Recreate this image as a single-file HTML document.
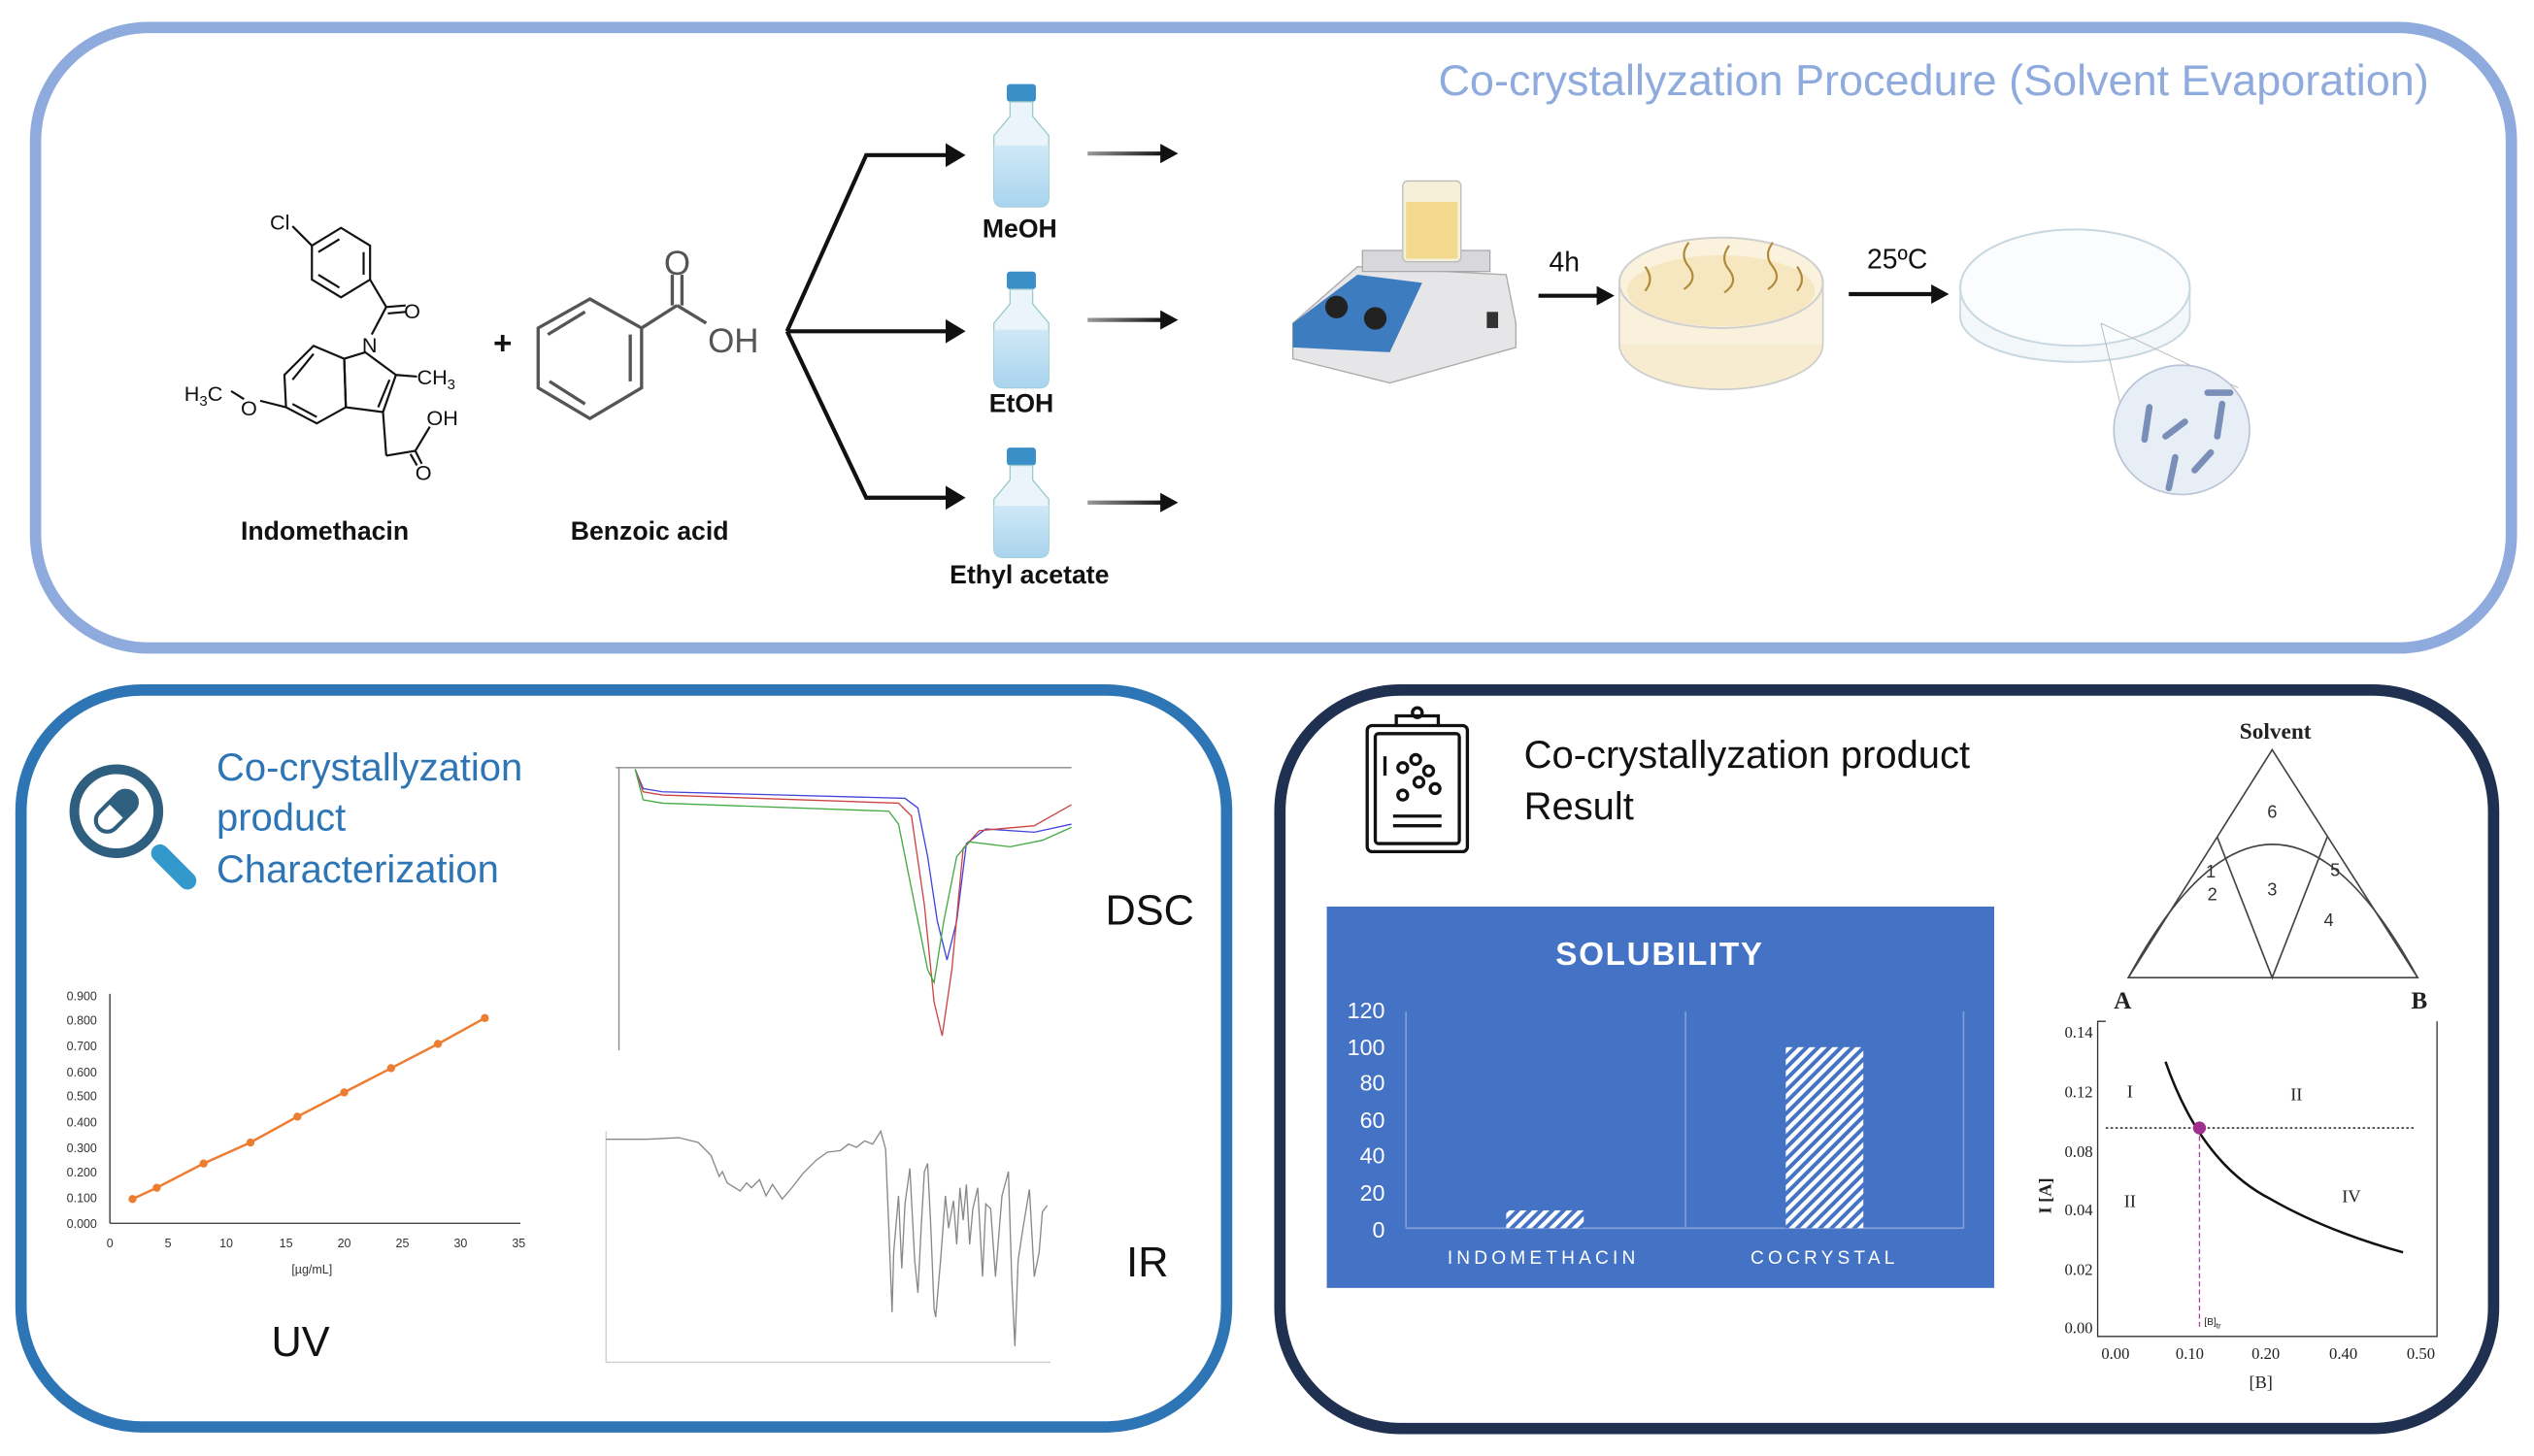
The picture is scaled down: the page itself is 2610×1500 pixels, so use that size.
<!DOCTYPE html>
<html><head><meta charset="utf-8"><style>
html,body{margin:0;padding:0;background:#fff;}
svg{display:block;}
text{font-family:"Liberation Sans",sans-serif;}
text.serif,.serif text{font-family:"Liberation Serif",serif;}
</style></head><body>
<svg width="2610" height="1500" viewBox="0 0 1568 901" preserveAspectRatio="none" xmlns="http://www.w3.org/2000/svg">
<defs>
<marker id="ah" markerWidth="6" markerHeight="6" refX="4" refY="3" orient="auto" markerUnits="strokeWidth"><path d="M0,0 L5,3 L0,6 z" fill="#111"/></marker>
<pattern id="hatch" width="5" height="5" patternUnits="userSpaceOnUse" patternTransform="rotate(45)"><rect width="5" height="5" fill="#4472c4"/><rect width="2.6" height="5" fill="#fff"/></pattern>
<linearGradient id="ag" gradientUnits="userSpaceOnUse" x1="673" x2="720" y1="0" y2="0"><stop offset="0" stop-color="#999"/><stop offset="1" stop-color="#111"/></linearGradient>
<linearGradient id="liq" x1="0" x2="0" y1="0" y2="1"><stop offset="0" stop-color="#cfe8f6"/><stop offset="1" stop-color="#a9d4ee"/></linearGradient>
</defs>

<!-- TOP PANEL -->
<rect x="22" y="17" width="1532" height="384" rx="70" fill="#fff" stroke="#8faadc" stroke-width="7"/>
<text x="1503" y="59" text-anchor="end" font-size="27" fill="#8faadc" textLength="613" lengthAdjust="spacingAndGlyphs">Co-crystallyzation Procedure (Solvent Evaporation)</text>

<!-- Indomethacin -->
<g stroke="#111" stroke-width="1.3" fill="none">
<polygon points="193,152 211,141 229,152 229,173 211,184 193,173"/>
<line x1="197" y1="156" x2="210" y2="148"/><line x1="225" y1="156" x2="225" y2="170"/><line x1="197" y1="170" x2="210" y2="178"/>
<line x1="193" y1="152" x2="181" y2="140"/>
<line x1="229" y1="173" x2="239" y2="190"/>
<line x1="239" y1="190" x2="251" y2="189"/><line x1="240" y1="194" x2="251" y2="193"/>
<line x1="239" y1="190" x2="230" y2="207"/>
<polygon points="213,222 226,218 245,232 237,255 214,252"/>
<line x1="241" y1="235" x2="234" y2="252"/>
<line x1="245" y1="232" x2="258" y2="233"/>
<polygon points="213,222 214,252 196,262 177,252 176,232 194,214"/>
<line x1="181" y1="235" x2="194" y2="219"/><line x1="181" y1="250" x2="196" y2="258"/>
<line x1="177" y1="252" x2="161" y2="248"/>
<line x1="151" y1="247" x2="143" y2="242"/>
<line x1="237" y1="255" x2="239" y2="282"/>
<line x1="239" y1="282" x2="257" y2="279"/>
<line x1="257" y1="279" x2="266" y2="264"/>
<line x1="257" y1="279" x2="261" y2="287"/><line x1="254" y1="281" x2="258" y2="288"/>
</g>
<g font-size="13" fill="#111">
<text x="167" y="142">Cl</text>
<text x="250" y="197">O</text>
<text x="224" y="218">N</text>
<text x="258" y="238">CH<tspan font-size="9" dy="3">3</tspan></text>
<text x="114" y="248">H<tspan font-size="9" dy="3">3</tspan><tspan dy="-3">C</tspan></text>
<text x="149" y="257">O</text>
<text x="264" y="263">OH</text>
<text x="257" y="297">O</text>
</g>
<text x="201" y="334" text-anchor="middle" font-size="16" font-weight="bold" fill="#111">Indomethacin</text>
<text x="311" y="219" text-anchor="middle" font-size="20" font-weight="bold" fill="#111">+</text>
<!-- Benzoic acid -->
<g stroke="#555" stroke-width="2" fill="none">
<polygon points="365,185 397,203 397,240 365,259 333,240 333,203"/>
<line x1="339" y1="207" x2="362" y2="193"/><line x1="390" y1="207" x2="390" y2="236"/><line x1="340" y1="236" x2="362" y2="250"/>
<line x1="397" y1="203" x2="419" y2="189"/>
<line x1="416" y1="189" x2="416" y2="170"/><line x1="422" y1="189" x2="422" y2="170"/>
<line x1="419" y1="189" x2="437" y2="200"/>
</g>
<text x="419" y="170" text-anchor="middle" font-size="21" fill="#555">O</text>
<text x="438" y="218" font-size="21" fill="#555">OH</text>
<text x="402" y="334" text-anchor="middle" font-size="16" font-weight="bold" fill="#111">Benzoic acid</text>

<!-- fork -->
<g stroke="#111" stroke-width="2.5" fill="none">
<polyline points="487,205 536,96 595,96" marker-end="url(#ah)"/>
<polyline points="487,205 595,205" marker-end="url(#ah)"/>
<polyline points="487,205 536,308 595,308" marker-end="url(#ah)"/>
</g>
<!-- bottles -->
<g>
<g transform="translate(632,52)"><rect x="-9" y="0" width="18" height="11" rx="2" fill="#3b8fc8"/><path d="M-7,11 L7,11 L7,20 L17,32 L17,70 Q17,76 11,76 L-11,76 Q-17,76 -17,70 L-17,32 L-7,20 Z" fill="#eaf4fa" stroke="#9cc" stroke-width="0.8"/><path d="M-17,38 L17,38 L17,70 Q17,76 11,76 L-11,76 Q-17,76 -17,70 Z" fill="url(#liq)"/></g>
<g transform="translate(632,168)"><rect x="-9" y="0" width="18" height="11" rx="2" fill="#3b8fc8"/><path d="M-7,11 L7,11 L7,20 L17,32 L17,66 Q17,72 11,72 L-11,72 Q-17,72 -17,66 L-17,32 L-7,20 Z" fill="#eaf4fa" stroke="#9cc" stroke-width="0.8"/><path d="M-17,36 L17,36 L17,66 Q17,72 11,72 L-11,72 Q-17,72 -17,66 Z" fill="url(#liq)"/></g>
<g transform="translate(632,277)"><rect x="-9" y="0" width="18" height="11" rx="2" fill="#3b8fc8"/><path d="M-7,11 L7,11 L7,20 L17,32 L17,62 Q17,68 11,68 L-11,68 Q-17,68 -17,62 L-17,32 L-7,20 Z" fill="#eaf4fa" stroke="#9cc" stroke-width="0.8"/><path d="M-17,36 L17,36 L17,62 Q17,68 11,68 L-11,68 Q-17,68 -17,62 Z" fill="url(#liq)"/></g>
</g>
<g font-size="16" font-weight="bold" fill="#111" text-anchor="middle">
<text x="631" y="147">MeOH</text><text x="632" y="255">EtOH</text><text x="637" y="361">Ethyl acetate</text>
</g>
<g stroke="url(#ag)" stroke-width="2.5">
<path d="M673,95 H720 M673,198 H720 M673,311 H720"/>
</g>
<g fill="#111"><path d="M718,89 L729,95 L718,101 Z"/><path d="M718,192 L729,198 L718,204 Z"/><path d="M718,305 L729,311 L718,317 Z"/></g>

<!-- hotplate -->
<g>
<path d="M800,200 L840,165 L932,170 L938,200 L938,215 L860,237 L800,222 Z" fill="#e6e6e8" stroke="#aaa" stroke-width="0.8"/>
<path d="M800,200 L840,170 L880,175 L860,218 L800,215 Z" fill="#3e7cc0"/>
<circle cx="827" cy="190" r="7" fill="#222"/><circle cx="851" cy="197" r="7" fill="#222"/>
<rect x="920" y="193" width="7" height="10" fill="#333"/>
<path d="M843,155 L922,155 L922,168 L843,168 Z" fill="#d8d8dc" stroke="#999" stroke-width="0.6"/>
<rect x="868" y="112" width="36" height="50" rx="3" fill="#f6f0d8" stroke="#bbb" stroke-width="0.8"/>
<rect x="870" y="125" width="32" height="35" fill="#f2d98e"/>
</g>
<text x="968" y="168" text-anchor="middle" font-size="17" fill="#111">4h</text>
<line x1="952" y1="183" x2="990" y2="183" stroke="#111" stroke-width="2.5"/><path d="M988,177 L999,183 L988,189 Z" fill="#111"/>
<!-- petri with liquid -->
<g>
<ellipse cx="1065" cy="213" rx="63" ry="28" fill="#f7ecd0" stroke="#ccc" stroke-width="1"/>
<rect x="1002" y="175" width="126" height="38" fill="#f9f1dc"/>
<ellipse cx="1065" cy="175" rx="63" ry="28" fill="#faf2dd" stroke="#cfcfcf" stroke-width="1.2"/>
<ellipse cx="1065" cy="180" rx="58" ry="22" fill="#f6e7c0"/>
<line x1="1002" y1="175" x2="1002" y2="213" stroke="#ccc"/><line x1="1128" y1="175" x2="1128" y2="213" stroke="#ccc"/>
<g stroke="#b08a3a" stroke-width="1.3" fill="none">
<path d="M1045,150 q-6,8 0,15 q6,8 -3,14"/><path d="M1070,152 q-6,8 0,15 q6,8 -3,14"/><path d="M1097,150 q-6,8 0,15 q6,8 -3,14"/>
<path d="M1018,165 q6,8 0,15"/><path d="M1112,165 q6,8 0,15"/>
</g>
</g>
<text x="1174" y="166" text-anchor="middle" font-size="17" fill="#111">25ºC</text>
<line x1="1144" y1="182" x2="1197" y2="182" stroke="#111" stroke-width="2.5"/><path d="M1195,176 L1206,182 L1195,188 Z" fill="#111"/>
<!-- empty petri -->
<g>
<ellipse cx="1284" cy="196" rx="71" ry="28" fill="#f2f7fa" stroke="#c8d8e0" stroke-width="1.2"/>
<rect x="1213" y="178" width="142" height="18" fill="#f4f8fb"/>
<ellipse cx="1284" cy="178" rx="71" ry="36" fill="#fafcfd" stroke="#c8d8e0" stroke-width="1.2"/>
<line x1="1213" y1="178" x2="1213" y2="196" stroke="#c8d8e0"/><line x1="1355" y1="178" x2="1355" y2="196" stroke="#c8d8e0"/>
<line x1="1300" y1="200" x2="1312" y2="250" stroke="#bbb" stroke-width="0.6"/><line x1="1300" y1="200" x2="1385" y2="240" stroke="#bbb" stroke-width="0.6"/>
<ellipse cx="1350" cy="266" rx="42" ry="40" fill="#e8eef6" stroke="#b8c4d6" stroke-width="1"/>
<g stroke="#7a8fb8" stroke-width="4" stroke-linecap="round">
<line x1="1366" y1="243" x2="1380" y2="243"/><line x1="1330" y1="252" x2="1327" y2="272"/><line x1="1340" y1="270" x2="1352" y2="261"/>
<line x1="1375" y1="250" x2="1372" y2="270"/><line x1="1346" y1="283" x2="1342" y2="302"/><line x1="1358" y1="291" x2="1368" y2="280"/>
</g>
</g>

<!-- BOTTOM LEFT PANEL -->
<rect x="13" y="427" width="746" height="456" rx="75" fill="#fff" stroke="#2e75b6" stroke-width="7"/>
<g>
<circle cx="72" cy="502" r="26" fill="none" stroke="#2f5f7f" stroke-width="6"/>
<line x1="99" y1="528" x2="116" y2="545" stroke="#3399cc" stroke-width="11" stroke-linecap="round"/>
<g transform="rotate(-45 72 502)"><rect x="57" y="495" width="30" height="14" rx="7" fill="#fff" stroke="#2f5f7f" stroke-width="2.5"/><path d="M72,495 L80,495 a7,7 0 0 1 0,14 L72,509 Z" fill="#2f5f7f"/></g>
</g>
<g font-size="24" fill="#2e75b6">
<text x="134" y="483">Co-crystallyzation</text><text x="134" y="514">product</text><text x="134" y="546">Characterization</text>
</g>
<!-- DSC -->
<g fill="none" stroke-width="0.8">
<line x1="381" y1="475" x2="663" y2="475" stroke="#888"/>
<line x1="383" y1="475" x2="383" y2="650" stroke="#888"/>
<polyline stroke="#4444dd" points="393,476 398,488 410,490 560,494 568,500 574,530 580,570 586,594 592,570 598,522 610,513 640,515 663,510"/>
<polyline stroke="#cc4444" points="393,476 398,490 410,492 556,497 564,505 572,560 578,620 583,641 589,600 596,525 606,514 640,511 663,498"/>
<polyline stroke="#44aa44" points="393,476 398,495 410,497 550,502 556,510 564,550 574,600 578,608 584,570 592,530 600,521 625,524 645,520 663,512"/>
</g>
<text x="684" y="572" font-size="26" fill="#111">DSC</text>
<!-- IR -->
<g fill="none" stroke="#888" stroke-width="0.8">
<line x1="375" y1="700" x2="375" y2="843" stroke="#ccc"/>
<line x1="375" y1="843" x2="650" y2="843" stroke="#ccc"/>
<polyline points="375,705 400,705 420,704 432,707 440,715 445,728 447,725 450,732 458,737 462,732 465,735 470,730 474,740 478,733 484,742 490,735 497,726 505,718 512,713 520,712 525,708 530,710 535,706 540,708 545,700 548,711 550,760 552,812 553,775 556,740 558,785 560,745 563,723 566,780 568,800 570,760 572,725 574,720 576,760 578,810 579,815 582,780 585,740 587,760 590,743 592,770 594,735 596,755 598,733 600,770 602,748 605,735 608,790 610,745 613,748 616,790 620,740 624,725 626,790 628,833 630,780 633,760 637,736 640,790 643,775 645,750 648,746"/>
</g>
<text x="697" y="790" font-size="26" fill="#111">IR</text>
<!-- UV chart -->
<g stroke="#333" stroke-width="0.8">
<line x1="68" y1="615" x2="68" y2="757"/><line x1="68" y1="757" x2="322" y2="757"/>
</g>
<g font-size="7.5" fill="#333" text-anchor="end">
<text x="60" y="619">0.900</text><text x="60" y="634">0.800</text><text x="60" y="650">0.700</text><text x="60" y="666">0.600</text><text x="60" y="681">0.500</text><text x="60" y="697">0.400</text><text x="60" y="713">0.300</text><text x="60" y="728">0.200</text><text x="60" y="744">0.100</text><text x="60" y="760">0.000</text>
</g>
<g font-size="7.5" fill="#333" text-anchor="middle">
<text x="68" y="772">0</text><text x="104" y="772">5</text><text x="140" y="772">10</text><text x="177" y="772">15</text><text x="213" y="772">20</text><text x="249" y="772">25</text><text x="285" y="772">30</text><text x="321" y="772">35</text>
<text x="193" y="788">[µg/mL]</text>
</g>
<polyline fill="none" stroke="#ed7d31" stroke-width="1.5" points="82,742 97,735 126,720 155,707 184,691 213,676 242,661 271,646 300,630"/>
<g fill="#ed7d31"><circle cx="82" cy="742" r="2.5"/><circle cx="97" cy="735" r="2.5"/><circle cx="126" cy="720" r="2.5"/><circle cx="155" cy="707" r="2.5"/><circle cx="184" cy="691" r="2.5"/><circle cx="213" cy="676" r="2.5"/><circle cx="242" cy="661" r="2.5"/><circle cx="271" cy="646" r="2.5"/><circle cx="300" cy="630" r="2.5"/></g>
<text x="186" y="839" text-anchor="middle" font-size="26" fill="#111">UV</text>

<!-- BOTTOM RIGHT PANEL -->
<rect x="792" y="427" width="751" height="457" rx="75" fill="#fff" stroke="#1f3050" stroke-width="7"/>
<g fill="none" stroke="#111" stroke-width="2">
<rect x="846" y="449" width="62" height="78" rx="3"/><rect x="851" y="454" width="52" height="68" rx="2"/>
<path d="M864,449 L864,443 L890,443 L890,449"/><circle cx="877" cy="441" r="3"/>
<circle cx="868" cy="475" r="3"/><circle cx="876" cy="470" r="3"/><circle cx="884" cy="477" r="3"/><circle cx="878" cy="484" r="3"/><circle cx="868" cy="492" r="3"/><circle cx="888" cy="488" r="3"/>
<line x1="857" y1="468" x2="857" y2="480"/>
<line x1="862" y1="505" x2="892" y2="505"/><line x1="862" y1="511" x2="892" y2="511"/>
</g>
<g font-size="24" fill="#111"><text x="943" y="475">Co-crystallyzation product</text><text x="943" y="507">Result</text></g>
<!-- Solubility chart -->
<rect x="821" y="561" width="413" height="236" fill="#4472c4"/>
<text x="1027" y="597" text-anchor="middle" font-size="20" font-weight="bold" fill="#fff" letter-spacing="1">SOLUBILITY</text>
<g stroke="#7f9fd8" stroke-width="1"><line x1="870" y1="626" x2="870" y2="760"/><line x1="1043" y1="626" x2="1043" y2="760"/><line x1="1215" y1="626" x2="1215" y2="760"/><line x1="870" y1="760" x2="1215" y2="760"/></g>
<g font-size="14" fill="#fff" text-anchor="end">
<text x="857" y="630">120</text><text x="857" y="653">100</text><text x="857" y="675">80</text><text x="857" y="698">60</text><text x="857" y="720">40</text><text x="857" y="743">20</text><text x="857" y="766">0</text>
</g>
<rect x="932" y="749" width="48" height="11" fill="url(#hatch)"/>
<rect x="1105" y="648" width="48" height="112" fill="url(#hatch)"/>
<g font-size="11.5" fill="#fff" text-anchor="middle" letter-spacing="2.5"><text x="955" y="782">INDOMETHACIN</text><text x="1129" y="782">COCRYSTAL</text></g>
<!-- ternary -->
<text x="1408" y="457" text-anchor="middle" class="serif" font-size="14" font-weight="bold" fill="#222">Solvent</text>
<g fill="none" stroke="#444" stroke-width="1">
<polygon points="1406,464 1317,605 1496,605"/>
<polyline points="1372,518 1406,605 1440,518"/>
<path d="M1317,605 Q1406,440 1496,605"/>
</g>
<g font-size="11" fill="#333" text-anchor="middle">
<text x="1406" y="506">6</text><text x="1368" y="543">1</text><text x="1369" y="557">2</text><text x="1406" y="554">3</text><text x="1445" y="542">5</text><text x="1441" y="573">4</text>
</g>
<g class="serif" font-size="15" font-weight="bold" fill="#222"><text x="1308" y="624">A</text><text x="1492" y="624">B</text></g>
<!-- phase chart -->
<g stroke="#333" stroke-width="0.8" fill="none">
<polyline points="1303,632 1298,632 1298,827 1508,827 1508,632"/>
</g>
<g class="serif" font-size="10" fill="#222" text-anchor="end">
<text x="1295" y="642">0.14</text><text x="1295" y="679">0.12</text><text x="1295" y="716">0.08</text><text x="1295" y="752">0.04</text><text x="1295" y="789">0.02</text><text x="1295" y="825">0.00</text>
</g>
<g class="serif" font-size="10" fill="#222" text-anchor="middle">
<text x="1309" y="841">0.00</text><text x="1355" y="841">0.10</text><text x="1402" y="841">0.20</text><text x="1450" y="841">0.40</text><text x="1498" y="841">0.50</text>
<text x="1399" y="859" font-size="11">[B]</text>
</g>
<text transform="translate(1269,740) rotate(-90)" class="serif" font-size="11" font-weight="bold" fill="#222" text-anchor="middle">I [A]</text>
<line x1="1303" y1="698" x2="1494" y2="698" stroke="#333" stroke-width="1" stroke-dasharray="1.5,1.5"/>
<line x1="1361" y1="698" x2="1361" y2="822" stroke="#b040a0" stroke-width="0.8" stroke-dasharray="3,2"/>
<path d="M1340,657 Q1362,720 1405,742 Q1440,762 1487,775" fill="none" stroke="#111" stroke-width="1.5"/>
<circle cx="1361" cy="698" r="4" fill="#a03090"/>
<text x="1364" y="820" font-size="6" fill="#222">[B]<tspan font-size="5" dy="2">tr</tspan></text>
<g class="serif" font-size="11" fill="#222" text-anchor="middle">
<text x="1318" y="679">I</text><text x="1421" y="681">II</text><text x="1318" y="747">II</text><text x="1455" y="744">IV</text>
</g>
</svg>
</body></html>
